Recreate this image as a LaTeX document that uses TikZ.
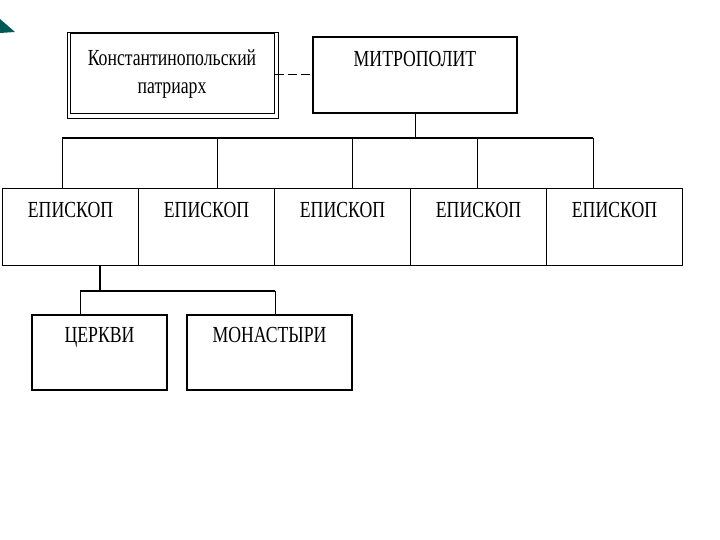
\documentclass[tikz,border=0pt]{standalone}
\usepackage{fontspec}
\setmainfont{Liberation Serif}[FakeStretch=0.77]
\usepackage{tikz}
\usetikzlibrary{positioning,calc}

\begin{document}
\begin{tikzpicture}[x=1pt, y=-1pt]

		\tikzset{
			box/.style={draw, line width=1pt, rectangle, inner sep=0pt, font=\fontsize{23}{28}\selectfont, text height=15pt},
			episkop/.style={box, minimum width=136pt, minimum height=76pt, text depth=34pt},
			lower/.style={box, line width=2pt, minimum height=75pt, text depth=35pt},
			link/.style={line width=1pt},
		}

		\useasboundingbox (0,0) rectangle (720,540);

		% corner mark of the slide
		\fill [teal!70!black] (0,19) -- (15,32) -- (0,33) -- cycle;

		\node [box, minimum width=204pt, minimum height=80pt, align=center, text height=, text depth=] (pat) at (172,74)
			{Константинопольский\\патриарх};
		\draw [line width=0.8pt] ($(pat.north west)+(-2,-1)$) rectangle ($(pat.south east)+(4,4)$);

		\node [box, line width=1.3pt, minimum width=204pt, minimum height=76pt, text depth=32pt] (met) at (415,75) {МИТРОПОЛИТ};

		\draw [link, dash pattern=on 9pt off 4pt] (met.west -| pat.east) -- (met.west);

		\foreach \n in {1,...,5}
			\node [episkop] (e\n) at ({70.5+136*(\n-1)},227) {ЕПИСКОП};

		\foreach \x/\n in {62/1,217/2,352/3,477/4,593/5}
			\coordinate (d\n) at (\x,138);

		\draw [link] (met.south) -- (met.south |- d1);
		\draw [line width=2pt] (d1) -- (d5);
		\foreach \n in {1,...,5}
			\draw [link] (d\n) -- (d\n |- e\n.north);

		\node [lower, minimum width=135pt] (ch) at (99.5,352.5) {ЦЕРКВИ};
		\node [lower, minimum width=165pt] (mo) at (269.5,352.5) {МОНАСТЫРИ};

		\coordinate (c0) at (100,291);
		\coordinate (c1) at (80,291);
		\coordinate (c2) at (275,291);

		\draw [line width=2pt] (c0 |- e1.south) -- (c0);
		\draw [line width=1.5pt] (c1) -- (c2);
		\draw [link] (c1) -- (c1 |- ch.north);
		\draw [link] (c2) -- (c2 |- mo.north);
\end{tikzpicture}
\end{document}
